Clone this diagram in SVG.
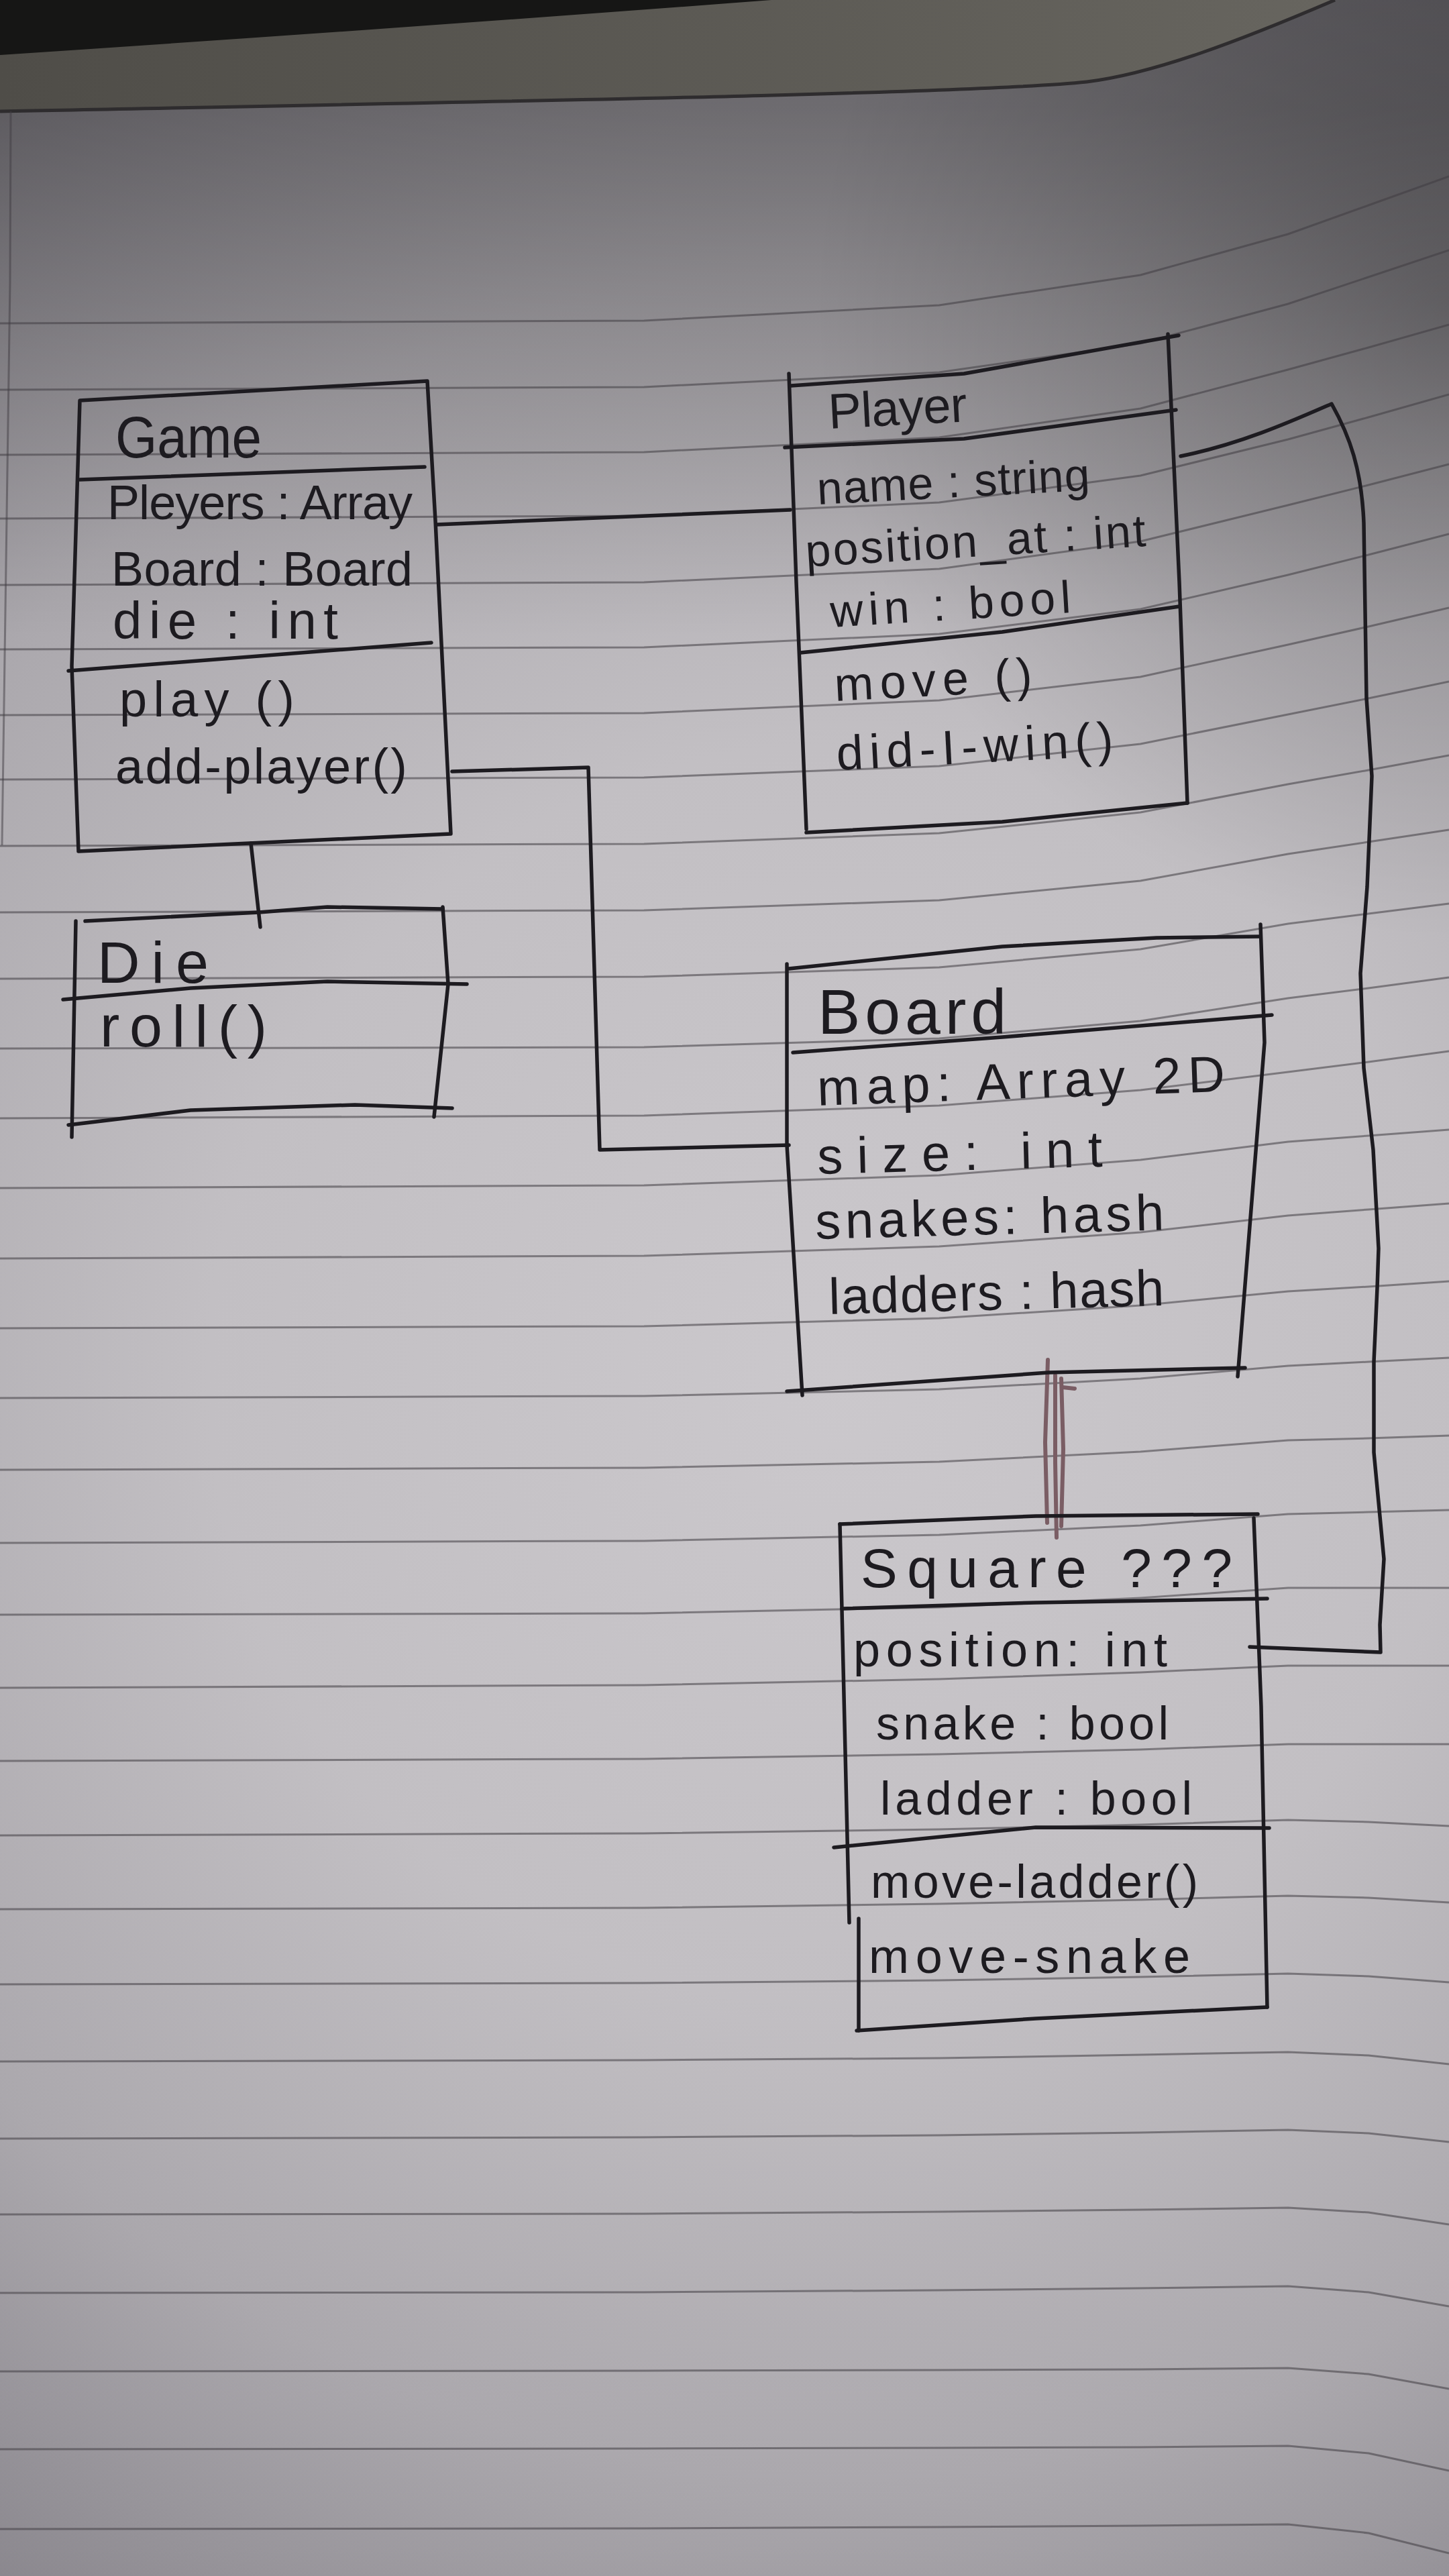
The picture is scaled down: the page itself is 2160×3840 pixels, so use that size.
<svg xmlns="http://www.w3.org/2000/svg" width="2160" height="3840" viewBox="0 0 2160 3840">
  <defs>
    <radialGradient id="paper" gradientUnits="userSpaceOnUse" cx="1250" cy="2050" r="2350">
      <stop offset="0" stop-color="#cbc8cc"/>
      <stop offset="0.4" stop-color="#c2bfc3"/>
      <stop offset="0.7" stop-color="#aba8ad"/>
      <stop offset="1" stop-color="#817e85"/>
    </radialGradient>
    <linearGradient id="topShade" gradientUnits="userSpaceOnUse" x1="0" y1="160" x2="0" y2="950">
      <stop offset="0" stop-color="#000" stop-opacity="0.3"/>
      <stop offset="1" stop-color="#000" stop-opacity="0"/>
    </linearGradient>
    <radialGradient id="cornerShade" gradientUnits="userSpaceOnUse" cx="2160" cy="450" r="950">
      <stop offset="0" stop-color="#000" stop-opacity="0.26"/>
      <stop offset="1" stop-color="#000" stop-opacity="0"/>
    </radialGradient>
    <linearGradient id="cover" x1="0" y1="0" x2="1" y2="0">
      <stop offset="0" stop-color="#4f4d48"/>
      <stop offset="1" stop-color="#67655f"/>
    </linearGradient>
  </defs>
  <style>
    .rule { fill: none; stroke: #3f3c42; stroke-opacity: 0.55; stroke-width: 3; stroke-linejoin: round; }
    .ink { fill: none; stroke: #1d1b20; stroke-width: 5.5; stroke-linecap: round; stroke-linejoin: round; }
    .red { fill: none; stroke: #7a5d64; stroke-width: 6; stroke-linecap: round; }
    .t { font-family: "Liberation Sans", Arial, sans-serif; fill: #1d1b20; }
  </style>

  <!-- paper -->
  <rect x="0" y="0" width="2160" height="3840" fill="url(#paper)"/>
  <rect x="0" y="0" width="2160" height="1000" fill="url(#topShade)"/>
  <rect x="0" y="0" width="2160" height="1600" fill="url(#cornerShade)"/>

  <!-- cover sheet and shadow above the page edge -->
  <path d="M0,0 L1990,0 C1850,60 1720,110 1620,122 C1450,140 700,152 0,166 Z" fill="url(#cover)"/>
  <path d="M0,0 L1150,0 Q600,42 0,82 Z" fill="#161615"/>
  <path d="M0,166 C700,152 1450,140 1620,122 C1720,110 1850,60 1990,0" fill="none" stroke="#2e2c2e" stroke-width="5"/>

  <!-- margin line -->
  <path d="M16,166 L15,420 L3,1260" fill="none" stroke="#3f3c42" stroke-opacity="0.5" stroke-width="3"/>

  <!-- ruled lines -->
  <g id="rules">
    <path class="rule" d="M0,482 L960,478 L1400,455 L1700,410 L1920,349 L2040,306 L2160,263"/>
    <path class="rule" d="M0,581 L960,577 L1400,555 L1700,512 L1920,453 L2040,413 L2160,373"/>
    <path class="rule" d="M0,678 L960,674 L1400,652 L1700,609 L1920,551 L2040,518 L2160,484"/>
    <path class="rule" d="M0,773 L960,769 L1400,749 L1700,709 L1920,655 L2040,622 L2160,588"/>
    <path class="rule" d="M0,872 L960,868 L1400,848 L1700,807 L1920,753 L2040,723 L2160,692"/>
    <path class="rule" d="M0,968 L960,965 L1400,945 L1700,908 L1920,857 L2040,827 L2160,796"/>
    <path class="rule" d="M0,1066 L960,1063 L1400,1044 L1700,1009 L1920,961 L2040,934 L2160,906"/>
    <path class="rule" d="M0,1162 L960,1159 L1400,1142 L1700,1109 L1920,1065 L2040,1041 L2160,1016"/>
    <path class="rule" d="M0,1261 L960,1258 L1400,1242 L1700,1211 L1920,1169 L2040,1148 L2160,1126"/>
    <path class="rule" d="M0,1360 L960,1357 L1400,1342 L1700,1313 L1920,1273 L2040,1255 L2160,1237"/>
    <path class="rule" d="M0,1459 L960,1456 L1400,1442 L1700,1415 L1920,1377 L2040,1362 L2160,1347"/>
    <path class="rule" d="M0,1563 L960,1561 L1400,1548 L1700,1522 L1920,1488 L2040,1473 L2160,1457"/>
    <path class="rule" d="M0,1667 L960,1663 L1400,1648 L1700,1625 L1920,1598 L2040,1583 L2160,1567"/>
    <path class="rule" d="M0,1771 L960,1767 L1400,1752 L1700,1729 L1920,1702 L2040,1693 L2160,1684"/>
    <path class="rule" d="M0,1876 L960,1872 L1400,1858 L1700,1837 L1920,1812 L2040,1803 L2160,1794"/>
    <path class="rule" d="M0,1980 L960,1977 L1400,1965 L1700,1946 L1920,1925 L2040,1918 L2160,1910"/>
    <path class="rule" d="M0,2084 L960,2081 L1400,2071 L1700,2055 L1920,2036 L2040,2030 L2160,2024"/>
    <path class="rule" d="M0,2191 L960,2188 L1400,2179 L1700,2164 L1920,2147 L2040,2144 L2160,2140"/>
    <path class="rule" d="M0,2300 L960,2297 L1400,2288 L1700,2274 L1920,2257 L2040,2254 L2160,2251"/>
    <path class="rule" d="M0,2407 L960,2405 L1400,2396 L1700,2382 L1920,2367 L2160,2367"/>
    <path class="rule" d="M0,2516 L960,2512 L1400,2503 L1700,2493 L1920,2483 L2160,2483"/>
    <path class="rule" d="M0,2625 L960,2622 L1400,2615 L1700,2608 L1920,2600 L2160,2600"/>
    <path class="rule" d="M0,2736 L960,2733 L1400,2727 L1700,2720 L1920,2713 L2040,2716 L2160,2722"/>
    <path class="rule" d="M0,2846 L960,2844 L1400,2838 L1700,2832 L1920,2826 L2040,2829 L2160,2836"/>
    <path class="rule" d="M0,2958 L960,2956 L1400,2952 L1700,2947 L1920,2942 L2040,2946 L2160,2955"/>
    <path class="rule" d="M0,3073 L960,3071 L1400,3068 L1700,3063 L1920,3059 L2040,3064 L2160,3077"/>
    <path class="rule" d="M0,3188 L960,3186 L1400,3183 L1700,3179 L1920,3175 L2040,3180 L2160,3193"/>
    <path class="rule" d="M0,3301 L960,3300 L1400,3297 L1700,3294 L1920,3291 L2040,3298 L2160,3316"/>
    <path class="rule" d="M0,3418 L960,3417 L1400,3414 L1700,3411 L1920,3408 L2040,3417 L2160,3438"/>
    <path class="rule" d="M0,3535 L960,3534 L1400,3533 L1700,3532 L1920,3530 L2040,3539 L2160,3561"/>
    <path class="rule" d="M0,3651 L960,3650 L1400,3649 L1700,3648 L1920,3646 L2040,3657 L2160,3683"/>
    <path class="rule" d="M0,3770 L960,3769 L1400,3767 L1700,3765 L1920,3763 L2040,3776 L2160,3806"/>
  </g>

  <!-- associations between classes -->
  <g id="connectors">
    <path class="ink" d="M374,1257 L388,1382"/>
    <path class="ink" d="M651,782 L1178,760"/>
    <path class="ink" d="M674,1150 L877,1144 L894,1714 L1176,1707"/>
    <path class="ink" d="M1760,680 C1850,662 1930,626 1985,602 C2012,650 2030,700 2033,780 L2037,1041 L2045,1157 L2038,1322 L2028,1451 L2033,1592 L2047,1714 L2055,1861 L2053,1920 L2048,2030 L2048,2165 L2063,2324 L2057,2422 L2058,2463 L1863,2455"/>
    <path class="red" d="M1562,2027 L1558,2150 L1561,2270"/>
    <path class="red" d="M1573,2050 L1573,2180 L1575,2292"/>
    <path class="red" d="M1582,2055 L1585,2160 L1582,2275"/>
    <path class="red" d="M1584,2068 L1602,2070" stroke-width="3"/>
  </g>

  <!-- Game -->
  <g id="game">
    <path class="ink" d="M119,597 L637,568 L649,776 L672,1243 L117,1269 L107,993 Z"/>
    <path class="ink" d="M119,715 L633,696"/>
    <path class="ink" d="M102,1000 L643,958"/>
    <text class="t" x="172" y="682" font-size="88" textLength="218" lengthAdjust="spacingAndGlyphs">Game</text>
    <text class="t" x="160" y="774" font-size="72" textLength="455" lengthAdjust="spacing">Pleyers : Array</text>
    <text class="t" x="166" y="873" font-size="72" textLength="449" lengthAdjust="spacing">Board : Board</text>
    <text class="t" x="168" y="952" font-size="78" textLength="336" lengthAdjust="spacing">die : int</text>
    <text class="t" x="178" y="1068" font-size="74" textLength="261" lengthAdjust="spacing">play ()</text>
    <text class="t" x="172" y="1168" font-size="74" textLength="435" lengthAdjust="spacing">add-player()</text>
  </g>

  <!-- Die -->
  <g id="die">
    <path class="ink" d="M127,1373 L386,1360 L488,1352 L660,1355"/>
    <path class="ink" d="M660,1352 L668,1467 L647,1665"/>
    <path class="ink" d="M102,1677 L284,1655 L529,1647 L674,1652"/>
    <path class="ink" d="M113,1373 L107,1695"/>
    <path class="ink" d="M94,1490 L284,1473 L488,1463 L696,1467"/>
    <text class="t" x="145" y="1465" font-size="88" textLength="166" lengthAdjust="spacing">Die</text>
    <text class="t" x="149" y="1560" font-size="88" textLength="249" lengthAdjust="spacing">roll()</text>
  </g>

  <!-- Player -->
  <g id="player">
    <path class="ink" d="M1179,575 L1437,557 L1757,500"/>
    <path class="ink" d="M1176,557 L1187,868 L1202,1236"/>
    <path class="ink" d="M1741,498 L1758,868 L1770,1197"/>
    <path class="ink" d="M1202,1241 L1494,1225 L1770,1197"/>
    <path class="ink" d="M1170,667 L1437,654 L1753,611"/>
    <path class="ink" d="M1193,973 L1494,942 L1758,904"/>
    <text class="t" x="1236" y="639" font-size="74" textLength="207" lengthAdjust="spacing" transform="rotate(-3 1236 639)">Player</text>
    <text class="t" x="1219" y="752" font-size="68" textLength="407" lengthAdjust="spacing" transform="rotate(-3 1219 752)">name : string</text>
    <text class="t" x="1202" y="845" font-size="68" textLength="508" lengthAdjust="spacing" transform="rotate(-3.5 1202 845)">position_at : int</text>
    <text class="t" x="1239" y="935" font-size="68" textLength="359" lengthAdjust="spacing" transform="rotate(-3.5 1239 935)">win : bool</text>
    <text class="t" x="1245" y="1045" font-size="70" textLength="295" lengthAdjust="spacing" transform="rotate(-3 1245 1045)">move ()</text>
    <text class="t" x="1248" y="1148" font-size="72" textLength="413" lengthAdjust="spacing" transform="rotate(-3 1248 1148)">did-I-win()</text>
  </g>

  <!-- Board -->
  <g id="board">
    <path class="ink" d="M1176,1444 L1494,1411 L1724,1398 L1879,1396"/>
    <path class="ink" d="M1173,1437 L1173,1707 L1196,2080"/>
    <path class="ink" d="M1879,1378 L1885,1554 L1845,2052"/>
    <path class="ink" d="M1173,2074 L1563,2046 L1856,2039"/>
    <path class="ink" d="M1182,1569 L1494,1546 L1896,1513"/>
    <text class="t" x="1219" y="1541" font-size="95" textLength="281" lengthAdjust="spacing">Board</text>
    <text class="t" x="1219" y="1648" font-size="76" textLength="608" lengthAdjust="spacing" transform="rotate(-2 1219 1648)">map: Array 2D</text>
    <text class="t" x="1219" y="1750" font-size="76" textLength="425" lengthAdjust="spacing" transform="rotate(-1.5 1219 1750)">size: int</text>
    <text class="t" x="1216" y="1847" font-size="76" textLength="520" lengthAdjust="spacing" transform="rotate(-1.5 1216 1847)">snakes: hash</text>
    <text class="t" x="1236" y="1959" font-size="76" textLength="500" lengthAdjust="spacing" transform="rotate(-1.5 1236 1959)">ladders : hash</text>
  </g>

  <!-- Square -->
  <g id="square">
    <path class="ink" d="M1252,2272 L1544,2260 L1875,2257"/>
    <path class="ink" d="M1252,2272 L1266,2866"/>
    <path class="ink" d="M1280,2860 L1280,3027"/>
    <path class="ink" d="M1869,2263 L1880,2544 L1889,2992"/>
    <path class="ink" d="M1277,3027 L1544,3009 L1889,2992"/>
    <path class="ink" d="M1255,2398 L1544,2389 L1889,2383"/>
    <path class="ink" d="M1243,2754 L1544,2724 L1892,2725"/>
    <text class="t" x="1283" y="2366" font-size="82" textLength="554" lengthAdjust="spacing">Square ???</text>
    <text class="t" x="1272" y="2484" font-size="72" textLength="468" lengthAdjust="spacing">position: int</text>
    <text class="t" x="1306" y="2593" font-size="70" textLength="436" lengthAdjust="spacing">snake : bool</text>
    <text class="t" x="1312" y="2705" font-size="70" textLength="465" lengthAdjust="spacing">ladder : bool</text>
    <text class="t" x="1298" y="2829" font-size="70" textLength="488" lengthAdjust="spacing">move-ladder()</text>
    <text class="t" x="1295" y="2941" font-size="72" textLength="479" lengthAdjust="spacing">move-snake</text>
  </g>
</svg>
